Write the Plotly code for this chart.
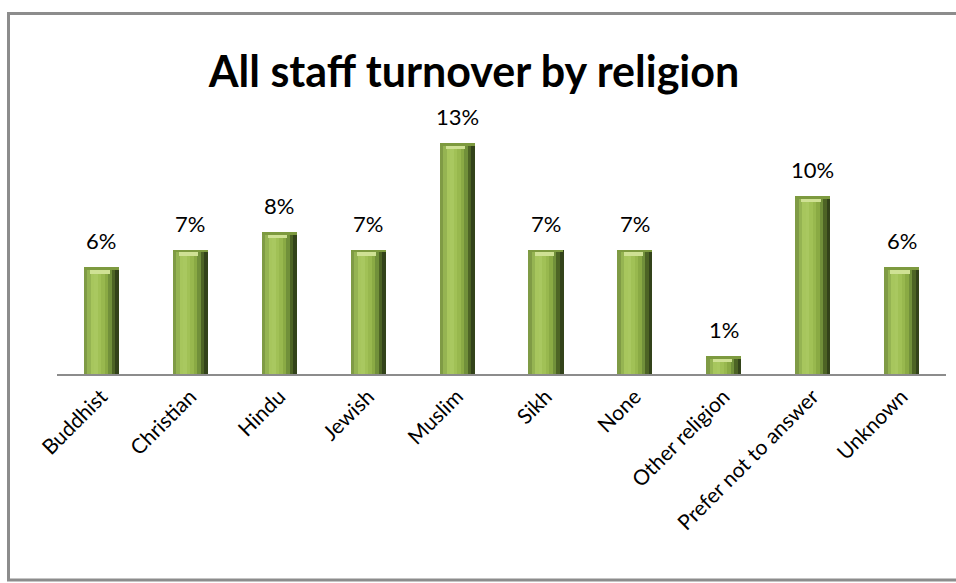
import plotly.graph_objects as go

# Turnover rate (%) for each religion group
religions = ["Buddhist", "Christian", "Hindu", "Jewish", "Muslim", "Sikh", "None",
             "Other religion", "Prefer not to answer", "Unknown"]
turnover_pct = [6, 7, 8, 7, 13, 7, 7, 1, 10, 6]
value_labels = ["6%", "7%", "8%", "7%", "13%", "7%", "7%", "1%", "10%", "6%"]

W, H = 956, 583
M_L, M_R, M_T, M_B = 57, 10, 125, 209
PLOT_W = W - M_L - M_R
PLOT_H = H - M_T - M_B

BAR_W = 0.394  # bar width in category units

# Vertical strips (left to right) giving each bar a rounded, shaded look
strip_colors = ["#7f9b45", "#95b452", "#a7c65d", "#a9c860", "#a1c156",
                "#98b84e", "#8aaa44", "#71903a", "#4d6425", "#33431a"]

fig = go.Figure()
n = len(strip_colors)
sw = BAR_W / n
for i, c in enumerate(strip_colors):
    fig.add_trace(go.Bar(
        x=religions, y=turnover_pct,
        width=[sw * 1.02] * len(religions),
        offset=-BAR_W / 2 + i * sw,
        marker=dict(color=c, line=dict(width=0)),
        hoverinfo="skip", showlegend=False,
    ))

# Light bevel at the top of each bar
cap = 0.35
fig.add_trace(go.Bar(
    x=religions, y=[cap] * len(religions),
    base=[v - cap for v in turnover_pct],
    width=[BAR_W * 0.55] * len(religions),
    offset=-BAR_W * 0.32,
    marker=dict(color="#cfe194", line=dict(width=0)),
    hoverinfo="skip", showlegend=False,
))
fig.add_trace(go.Bar(
    x=religions, y=[cap * 0.45] * len(religions),
    base=[v - cap * 0.45 for v in turnover_pct],
    width=[BAR_W] * len(religions),
    offset=-BAR_W / 2,
    marker=dict(color="#7d9a3f", line=dict(width=0)),
    hoverinfo="skip", showlegend=False,
))

for cat, v, lab in zip(religions, turnover_pct, value_labels):
    fig.add_annotation(x=cat, y=v, text=lab, showarrow=False,
                       yanchor="bottom", yshift=11,
                       font=dict(family="Lato", size=22, color="#000000"))


def px_x(p):
    return (p - M_L) / PLOT_W


def px_y(p):
    return (H - M_B - p) / PLOT_H


# Chart frame
fig.add_shape(type="rect", xref="paper", yref="paper",
              x0=px_x(8.5), x1=px_x(962), y0=px_y(13.5), y1=px_y(580),
              line=dict(color="#8c8c8c", width=3), fillcolor="rgba(0,0,0,0)",
              layer="below")

fig.update_layout(
    width=W, height=H,
    margin=dict(l=M_L, r=M_R, t=M_T, b=M_B),
    paper_bgcolor="white", plot_bgcolor="white",
    barmode="overlay", bargap=0,
    title=dict(text="<b>All staff turnover by religion</b>",
               x=474 / W, xanchor="center", xref="container",
               y=1 - 72 / H, yanchor="middle", yref="container",
               font=dict(family="Lato", size=43, color="#000000")),
    xaxis=dict(showline=True, linecolor="#8c8c8c", linewidth=2,
               tickangle=-45, ticks="", showgrid=False,
               tickfont=dict(family="Lato", size=21, color="#000000")),
    yaxis=dict(range=[0, 14], visible=False, showgrid=False),
    showlegend=False,
)

fig.write_html("out.html")
